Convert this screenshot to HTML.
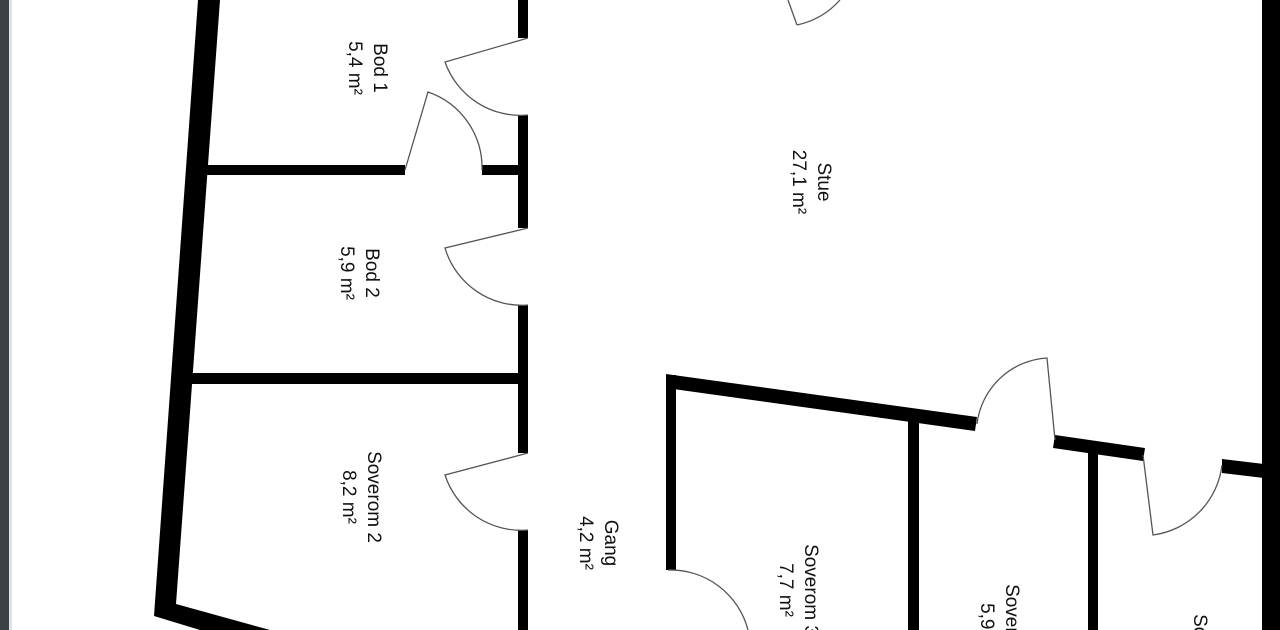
<!DOCTYPE html>
<html><head><meta charset="utf-8"><style>
html,body{margin:0;padding:0;background:#fff;width:1280px;height:630px;overflow:hidden}
svg{display:block;overflow:hidden}
text{font-family:"Liberation Sans",sans-serif;font-size:19px;fill:#111}
</style></head><body>
<svg width="1280" height="630" viewBox="0 0 1280 630" xmlns="http://www.w3.org/2000/svg">
<rect width="1280" height="630" fill="#fff"/>
<rect x="0" y="0" width="9" height="630" fill="#3b4145"/>
<rect x="9" y="0" width="3" height="630" fill="#dfe2e4"/>
<polygon points="198,0 220,0 176,604 270,630 200,630 154,616" fill="#000"/>
<rect x="1262" y="0" width="18" height="630" fill="#000"/>
<g fill="#000">
<rect x="518" y="0" width="10" height="38"/>
<rect x="518" y="115" width="10" height="113"/>
<rect x="518" y="305" width="10" height="148"/>
<rect x="518" y="530" width="10" height="100"/>
<rect x="205" y="165" width="200" height="10"/>
<rect x="482" y="165" width="40" height="10"/>
<rect x="192" y="373" width="328" height="11"/>
<rect x="666" y="375" width="10" height="195"/>
<polygon points="666,374 977,417 975,431 666,388"/>
<polygon points="1055,435 1145,448 1143,461 1053,448"/>
<polygon points="1222,459 1264,464 1264,478 1222,473"/>
<rect x="908" y="420" width="11" height="210"/>
<rect x="1088" y="448" width="10" height="182"/>
</g>
<g fill="none" stroke="#555" stroke-width="1.3">
<path d="M528,38 L445,62 A80,80 0 0 0 528,115"/>
<path d="M405,170 L428,92 A80,80 0 0 1 482,170"/>
<path d="M528,228 L445,248 A80,80 0 0 0 528,305"/>
<path d="M528,453 L445,475 A80,80 0 0 0 528,530"/>
<path d="M668,570 A80,80 0 0 1 748,630"/>
<path d="M797,25 L788,0 M797,25 A80,80 0 0 0 840,0"/>
<path d="M977,424 A75,75 0 0 1 1047,358 L1055,440"/>
<path d="M1143,455 L1153,535 A80,80 0 0 0 1222,465"/>
</g>
<g text-anchor="middle">
<g transform="translate(366,68) rotate(90)"><text x="0" y="-8">Bod 1</text><text x="0" y="17">5,4 m²</text></g>
<g transform="translate(358,273) rotate(90)"><text x="0" y="-8">Bod 2</text><text x="0" y="17">5,9 m²</text></g>
<g transform="translate(810,182) rotate(90)"><text x="0" y="-8">Stue</text><text x="0" y="17">27,1 m²</text></g>
<g transform="translate(360,497) rotate(90)"><text x="0" y="-8">Soverom 2</text><text x="0" y="17">8,2 m²</text></g>
<g transform="translate(597,543) rotate(90)"><text x="0" y="-8">Gang</text><text x="0" y="17">4,2 m²</text></g>
<g transform="translate(797,590) rotate(90)"><text x="0" y="-8">Soverom 3</text><text x="0" y="17">7,7 m²</text></g>
<g transform="translate(998,630) rotate(90)"><text x="0" y="-8">Soverom 4</text><text x="0" y="17">5,9 m²</text></g>
<g transform="translate(1186,660) rotate(90)"><text x="0" y="-8">Soverom 5</text><text x="0" y="17">6,0 m²</text></g>
</g>
</svg>
</body></html>
